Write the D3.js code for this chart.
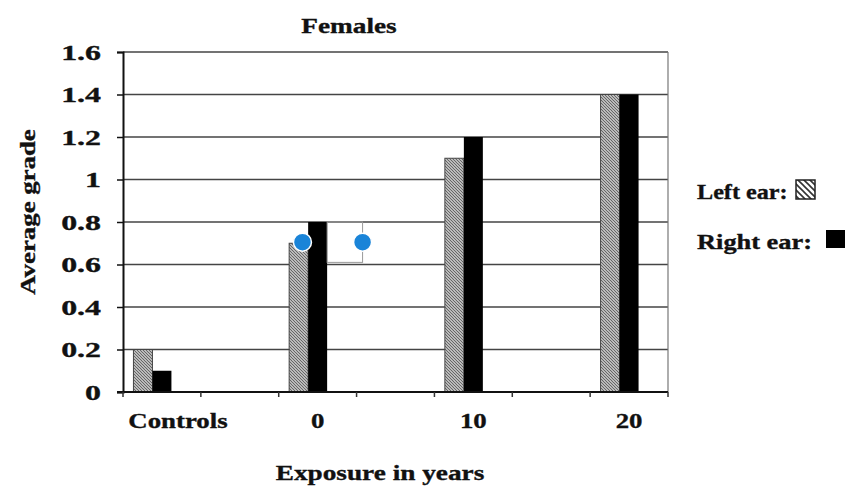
<!DOCTYPE html>
<html><head><meta charset="utf-8">
<script src="https://cdn.jsdelivr.net/npm/d3@7"></script>
<style>
body{margin:0;background:#fff;}
text{font-family:"Liberation Serif","Times New Roman",serif;font-weight:bold;fill:#111;stroke:#111;stroke-width:0.35px;}
</style></head>
<body><svg id="c" width="845" height="487"></svg>
<script>
const categories = ["Controls","0","10","20"];
const leftEar = [0.2, 0.7, 1.1, 1.4];
const rightEar = [0.1, 0.8, 1.2, 1.4];
const yTicks = [0,0.2,0.4,0.6,0.8,1,1.2,1.4,1.6];
const yTickLabels = ["0","0.2","0.4","0.6","0.8","1","1.2","1.4","1.6"];
const seriesNames = ["Left ear:","Right ear:"];

const W=845,H=487, m={l:123,r:177,t:52,b:95};
const svg=d3.select("#c");
const defs=svg.append("defs");
function hatch(id,size,sw,col){
  const p=defs.append("pattern").attr("id",id).attr("patternUnits","userSpaceOnUse")
    .attr("width",size).attr("height",size);
  p.append("rect").attr("width",size).attr("height",size).attr("fill","#fff");
  p.append("path").attr("d",`M0,0L${size},${size}M${-size},0L${size},${2*size}M0,${-size}L${2*size},${size}`)
    .attr("stroke",col).attr("stroke-width",sw);
}
hatch("hb",3,1.3,"#666");
hatch("hl",6,1.6,"#333");

function label(parent,x,y,str,opts={}){
  const {size=22,sx=1.22,anchor="start",rot=0}=opts;
  return parent.append("text")
    .attr("transform",`translate(${x},${y}) rotate(${rot}) scale(${sx},1)`)
    .attr("text-anchor",anchor).attr("font-size",size).text(str);
}

const slots = d3.range(7);
const x=d3.scaleBand().domain(slots).range([m.l,W-m.r]).padding(0);
const sub=d3.scaleBand().domain(["left","right","none"]).range([0,x.bandwidth()]).paddingInner(0).paddingOuter(0.55);
const y=d3.scaleLinear().domain([0,1.6]).range([H-m.b,m.t]);
const slotOf=i=>i*2;

svg.append("g").selectAll("line").data(yTicks.slice(1)).join("line")
  .attr("x1",m.l).attr("x2",W-m.r).attr("y1",d=>y(d)).attr("y2",d=>y(d))
  .attr("stroke","#444").attr("stroke-width",1.5);
svg.append("line").attr("x1",W-m.r).attr("x2",W-m.r).attr("y1",y(1.6)).attr("y2",y(0))
  .attr("stroke","#777").attr("stroke-width",1.2);

const g=svg.append("g");
categories.forEach((c,i)=>{
  const x0=x(slotOf(i));
  g.append("rect").attr("x",x0+sub("left")).attr("width",sub.bandwidth())
    .attr("y",y(leftEar[i])).attr("height",y(0)-y(leftEar[i]))
    .attr("fill","url(#hb)").attr("stroke","#444").attr("stroke-width",1);
  g.append("rect").attr("x",x0+sub("right")).attr("width",sub.bandwidth())
    .attr("y",y(rightEar[i])).attr("height",y(0)-y(rightEar[i]))
    .attr("fill","#000");
});

const ya=svg.append("g").attr("transform",`translate(${m.l},0)`)
  .call(d3.axisLeft(y).tickValues(yTicks).tickFormat("").tickSize(6));
ya.select(".domain").attr("stroke","#111").attr("stroke-width",2);
ya.selectAll(".tick line").attr("stroke","#111").attr("stroke-width",1.5);
yTicks.forEach((v,i)=>label(svg,101,y(v)+7.5,yTickLabels[i],{size:22,sx:1.45,anchor:"end"}));

const xa=svg.append("g").attr("transform",`translate(0,${y(0)})`);
xa.append("line").attr("x1",m.l-6).attr("x2",W-m.r).attr("stroke","#111").attr("stroke-width",2);
xa.selectAll("line.t").data(d3.range(8)).join("line").attr("class","t")
  .attr("x1",d=>m.l+d*x.step()).attr("x2",d=>m.l+d*x.step()).attr("y1",0).attr("y2",5)
  .attr("stroke","#333").attr("stroke-width",1.5);
categories.forEach((c,i)=>label(xa,x(slotOf(i))+x.bandwidth()/2+(i===0?16:0),36,c,{anchor:"middle",sx:1.22}));

const ax0=x(slotOf(1))+sub("right")+sub.bandwidth(), ax1=x(slotOf(1))+x.bandwidth()+6;
svg.append("rect").attr("x",ax0).attr("y",y(0.8)).attr("width",ax1-ax0).attr("height",y(0.61)-y(0.8))
  .attr("fill","none").attr("stroke","#999").attr("stroke-width",1);
[x(slotOf(1))+sub("left")+sub.bandwidth()*0.7, ax1].forEach(cx=>{
  svg.append("circle").attr("cx",cx).attr("cy",y(0.705)).attr("r",9)
    .attr("fill","#1a84d8").attr("stroke","#fff").attr("stroke-width",1.5);
});

label(svg,349,33,"Females",{anchor:"middle",sx:1.24});
label(svg,380,480,"Exposure in years",{anchor:"middle",sx:1.24});
label(svg,35,212,"Average grade",{anchor:"middle",sx:1.22,rot:-90});

const lg=svg.append("g");
label(lg,697,199,seriesNames[0],{sx:1.1});
lg.append("rect").attr("x",796).attr("y",180).attr("width",19).attr("height",19).attr("fill","url(#hl)").attr("stroke","#222").attr("stroke-width",1.5);
label(lg,697,249,seriesNames[1],{sx:1.2});
lg.append("rect").attr("x",826).attr("y",230).attr("width",19).attr("height",18).attr("fill","#000");
</script></body></html>
